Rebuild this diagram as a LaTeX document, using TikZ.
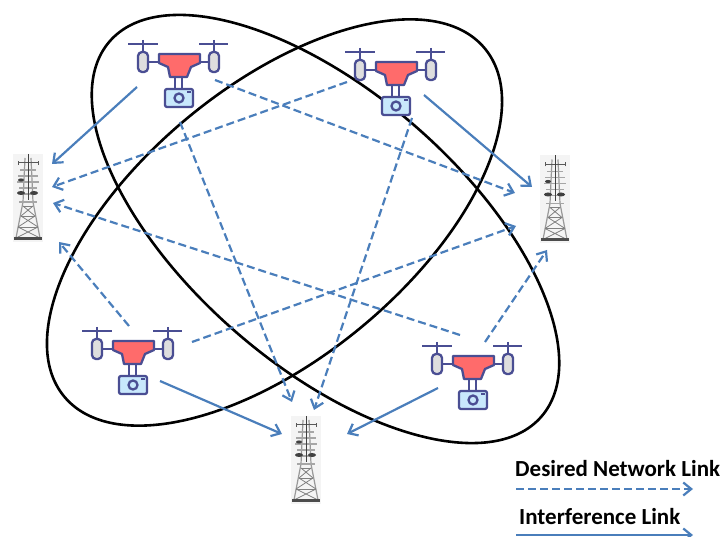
\documentclass[tikz,border=0pt]{standalone}
\usepackage{fontspec}
\setmainfont{Carlito}
\usetikzlibrary{arrows.meta, positioning}

\definecolor{droneline}{HTML}{4A4E93}
\definecolor{dronebody}{HTML}{FF6B6B}
\definecolor{dronecam}{HTML}{C8E8FC}
\definecolor{dronemotor}{HTML}{DEDEDE}
\definecolor{linkblue}{HTML}{4A7EBB}

\tikzset{
	dronepart/.style={draw=droneline,line width=2.3pt,line join=round},
	drone/.pic={
		\draw[dronepart] (-51,-18) -- (-21,-18);
		\draw[dronepart] (20,-18) -- (49,-18);
		\draw[dronepart] (-36,-22) -- (-36,-10);
		\draw[dronepart] (35,-22) -- (35,-10);
		\draw[dronepart] (-31,0) -- (-20,0);
		\draw[dronepart] (20,0) -- (31,0);
		\draw[dronepart,fill=dronemotor,rounded corners=4pt] (-41,-10) rectangle (-31,10);
		\draw[dronepart,fill=dronemotor,rounded corners=4pt] (30,-10) rectangle (40,10);
		\draw[dronepart] (-4,15) -- (-4,27);
		\draw[dronepart] (3,15) -- (3,27);
		\draw[dronepart,fill=dronebody] (-20,-8) -- (21,-8) -- (21,1) -- (12,5) -- (8,15) -- (-9,15) -- (-11,5) -- (-20,1) -- cycle;
		\draw[dronepart,fill=dronecam,rounded corners=2pt] (-14,27) rectangle (14,45);
		\draw[dronepart] (0,36) circle (4.5);
		\draw[dronepart] (8,30) -- (12,30);
	},
	tower/.pic={
		\fill[gray!9] (-15,-44) rectangle (15,44);
		\draw[gray!80,line width=1.2pt] (-12,40) -- (-5,4) -- (-3,-40);
		\draw[gray!80,line width=1.2pt] (12,40) -- (5,4) -- (3,-40);
		\draw[gray!70!black,line width=1pt] (-10,-33) -- (-10,-37) (-10,-35) -- (10,-35) (10,-33) -- (10,-37);
		\foreach \yy/\ww in {-28/8,-22/10,-16/11,-10/9,-4/8,4/9}
			\draw[gray!70,line width=1.2pt] (-\ww,\yy) -- (\ww,\yy);
		\draw[gray,line width=.8pt] (-5,8) -- (5,8) (-7,18) -- (7,18) (-10,29) -- (10,29);
		\draw[gray,line width=.8pt] (-5,8) -- (7,18) (5,8) -- (-7,18) (-7,18) -- (10,29) (7,18) -- (-10,29) (-10,29) -- (12,40) (10,29) -- (-12,40);
		\draw[gray!50!black,line width=1pt] (0,-44) -- (0,2);
		\fill[black!75] (-7,-18) ellipse (3 and 1.6);
		\fill[black!75] (-7,-5) ellipse (4 and 2);
		\fill[black!75] (6,-5) ellipse (4 and 2);
		\fill[gray!60!black] (-14,39) rectangle (14,42);
	},
	ringline/.style={draw=black,line width=2.6pt},
	desiredlink/.style={->,dashed,dash pattern=on 8pt off 4pt,draw=linkblue,line width=2.2pt},
	interflink/.style={->,draw=linkblue,line width=2.2pt},
	legendtext/.style={inner sep=0pt,font=\fontsize{23}{27}\selectfont\bfseries}
}

\begin{document}
\begin{tikzpicture}[x=1pt,y=-1pt,>={Straight Barb[length=8pt,width=13pt]}]
	\useasboundingbox (0,0) rectangle (721,537);

	\draw[ringline,rotate around={-41:(325.5,229)}] (325.5,229) ellipse [x radius=286,y radius=136.5];
	\draw[ringline,rotate around={39.6:(274.5,222.5)}] (274.5,222.5) ellipse [x radius=273,y radius=136];

	\pic (D1) at (179,62) {drone};
	\pic (D2) at (396,70) {drone};
	\pic (D3) at (133,349) {drone};
	\pic (D4) at (473,364) {drone};

	\pic (T1) at (28,198) {tower};
	\pic (T2) at (555,199.5) {tower};
	\pic (T3) at (306,460) {tower};

	% ends of the links
	\coordinate (D1a) at (137,87);
	\coordinate (D1b) at (180,122);
	\coordinate (D1c) at (215,80);
	\coordinate (D2a) at (424,95);
	\coordinate (D2b) at (347,82);
	\coordinate (D2c) at (412,118);
	\coordinate (D3a) at (160,381);
	\coordinate (D3b) at (129,326);
	\coordinate (D3c) at (192,342);
	\coordinate (D4a) at (438,388);
	\coordinate (D4b) at (460,335);
	\coordinate (D4c) at (485,342);
	\coordinate (T1a) at (52,164);
	\coordinate (T1b) at (52,187);
	\coordinate (T1c) at (53,203);
	\coordinate (T1d) at (59,242);
	\coordinate (T2a) at (532,187);
	\coordinate (T2b) at (515,193);
	\coordinate (T2c) at (516,226);
	\coordinate (T2d) at (547,250);
	\coordinate (T3a) at (282,434);
	\coordinate (T3b) at (347,434);
	\coordinate (T3c) at (292,402);
	\coordinate (T3d) at (314,410);

	\path (D1a) edge [interflink] (T1a);
	\path (D2a) edge [interflink] (T2a);
	\path (D3a) edge [interflink] (T3a);
	\path (D4a) edge [interflink] (T3b);

	\path (D1b) edge [desiredlink] (T3c);
	\path (D1c) edge [desiredlink] (T2b);
	\path (D2b) edge [desiredlink] (T1b);
	\path (D2c) edge [desiredlink] (T3d);
	\path (D3b) edge [desiredlink] (T1d);
	\path (D3c) edge [desiredlink] (T2c);
	\path (D4b) edge [desiredlink] (T1c);
	\path (D4c) edge [desiredlink] (T2d);

	% legend
	\node[legendtext,anchor=west] (L1) at (515,469) {Desired Network Link};
	\node[legendtext,anchor=west] (L2) at (519,517) {Interference Link};
	\coordinate (L1a) at (516,489);
	\coordinate (L1b) at (693,489);
	\coordinate (L2a) at (516,535);
	\coordinate (L2b) at (693,535);
	\path (L1a) edge [desiredlink] (L1b);
	\path (L2a) edge [interflink] (L2b);
\end{tikzpicture}
\end{document}
